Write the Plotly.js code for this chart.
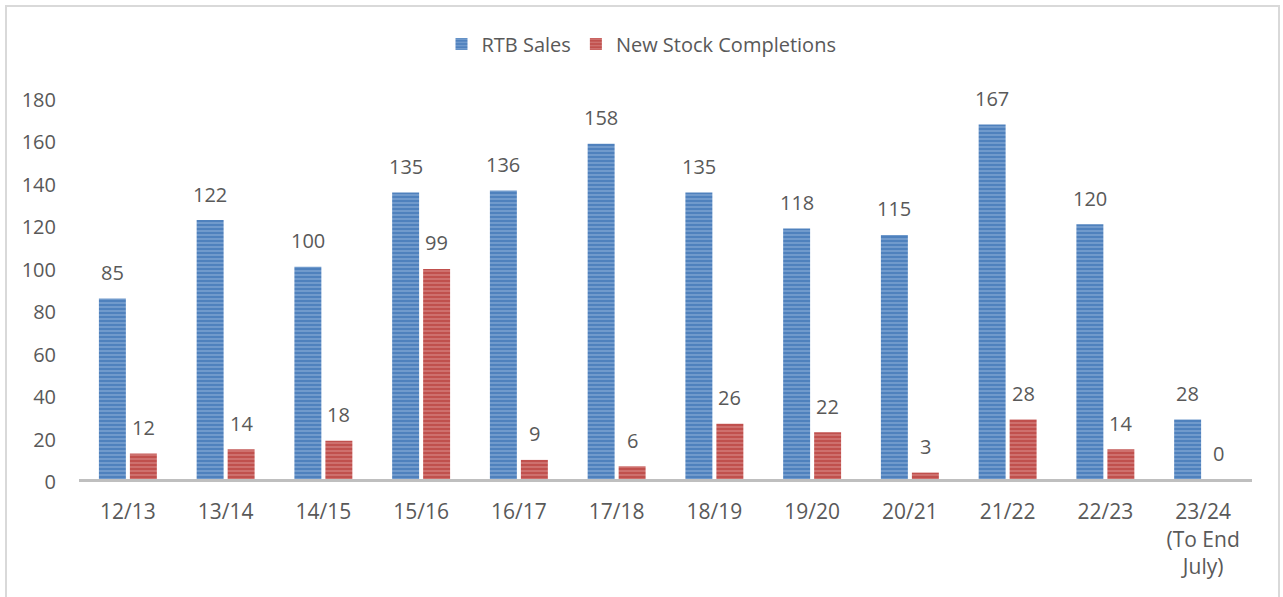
<!DOCTYPE html>
<html>
<head>
<meta charset="utf-8">
<script src="https://cdn.plot.ly/plotly-3.0.1.min.js"></script>
<style>
  html, body { margin: 0; padding: 0; background: #fff; overflow: hidden; }
  #chart { width: 1283px; height: 597px; }
  #frame { position: absolute; left: 5px; top: 5px; width: 1275px; height: 620px;
           border: 2px solid #d9d9d9; pointer-events: none; box-sizing: border-box; }
</style>
</head>
<body>
<div id="chart"></div>
<div id="frame"></div>
<script>
const categories = ["12/13", "13/14", "14/15", "15/16", "16/17", "17/18", "18/19",
                    "19/20", "20/21", "21/22", "22/23", "23/24<br>(To End<br>July)"];
const rtbSales = [85, 122, 100, 135, 136, 158, 135, 118, 115, 167, 120, 28];
const newStockCompletions = [12, 14, 18, 99, 9, 6, 26, 22, 3, 28, 14, 0];
const seriesNames = ["RTB Sales", "New Stock Completions"];
const yTicks = [0, 20, 40, 60, 80, 100, 120, 140, 160, 180];

const textColor = "#595959";
const fontFam = "'Open Sans', 'Liberation Sans', sans-serif";

const bargap = 0.366, bargroupgap = 0.13;
const slot = (1 - bargap) / 2;

function barTrace(name, y, bg, fg) {
  return {
    type: "bar", name: name, x: categories, y: y,
    marker: {
      color: bg,
      line: { width: 0 },
      pattern: { shape: "-", bgcolor: bg, fgcolor: fg, fgopacity: 0.55, size: 4, solidity: 0.3 }
    },
    hoverinfo: "skip"
  };
}

const traces = [
  barTrace(seriesNames[0], rtbSales, "#4f81bd", "#b4cbea"),
  barTrace(seriesNames[1], newStockCompletions, "#c0504d", "#eab1af")
];

const annotations = [];
[rtbSales, newStockCompletions].forEach((vals, s) => {
  const off = (s === 0 ? -1 : 1) * slot / 2;
  vals.forEach((v, i) => {
    annotations.push({
      x: i + off, y: v, xref: "x", yref: "y",
      text: String(v), showarrow: false,
      xanchor: "center", yanchor: "middle", yshift: 26,
      font: { family: fontFam, size: 20, color: textColor }
    });
  });
});

const layout = {
  width: 1283, height: 597,
  margin: { l: 78.7, r: 31, t: 96.5, b: 118, pad: 0 },
  paper_bgcolor: "#ffffff", plot_bgcolor: "#ffffff",
  font: { family: fontFam, size: 20, color: textColor },
  barmode: "group", bargap: bargap, bargroupgap: bargroupgap,
  showlegend: true,
  legend: {
    orientation: "h", x: 0.5, xanchor: "center", xref: "container",
    y: 1 - 44 / 597, yanchor: "middle", yref: "container",
    font: { family: fontFam, size: 20, color: textColor },
    traceorder: "normal", itemwidth: 30
  },
  xaxis: {
    type: "category", showgrid: false, zeroline: false,
    showline: true, linecolor: "#bfbfbf", linewidth: 3,
    ticks: "", ticklabelstandoff: 12,
    tickfont: { family: fontFam, size: 21, color: textColor },
    fixedrange: true
  },
  yaxis: {
    range: [0, 180], tickvals: yTicks, ticktext: yTicks.map(String),
    showgrid: false, zeroline: false, showline: false, ticks: "",
    ticklabelstandoff: 22, ticklabelshift: 3,
    tickfont: { family: fontFam, size: 20, color: textColor },
    fixedrange: true
  },
  annotations: annotations
};

Plotly.newPlot("chart", traces, layout, { displayModeBar: false, staticPlot: true });
</script>
</body>
</html>
